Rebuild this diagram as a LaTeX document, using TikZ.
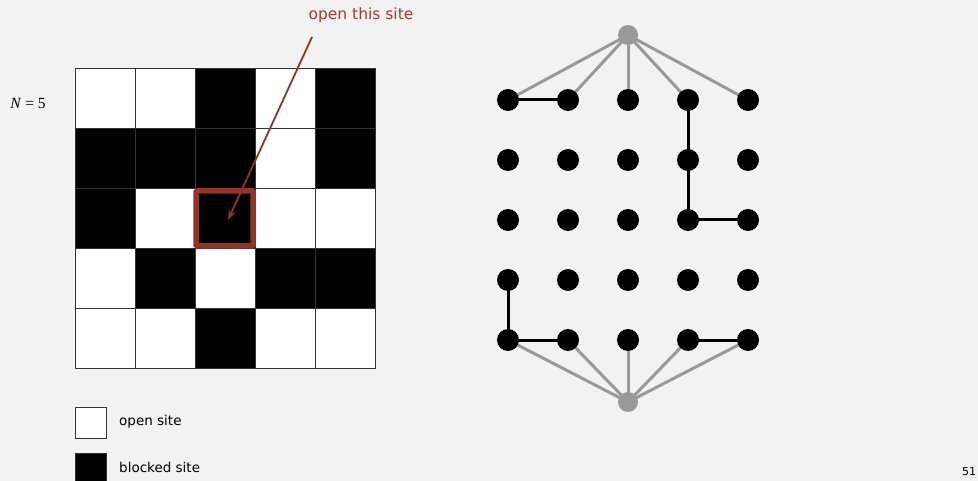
\documentclass[tikz,border=0pt]{standalone}
\usepackage{fontspec}
\setmainfont{DejaVu Sans}
\newfontfamily\serifface{Liberation Serif}
\usetikzlibrary{arrows.meta,backgrounds}
\pgfdeclarelayer{bgfill}
\pgfsetlayers{bgfill,background,main}
\definecolor{bg}{HTML}{F2F2F2}
\definecolor{redd}{HTML}{A5392E}
\definecolor{boxred}{HTML}{923526}
\definecolor{vgray}{HTML}{999999}
\tikzset{
  site/.style={circle,fill=black,inner sep=0pt,minimum size=22pt},
  virt/.style={circle,fill=vgray,inner sep=0pt,minimum size=20pt},
  blk/.style={line width=3pt,black},
  gry/.style={line width=3pt,vgray},
  cellw/.style={draw=black!80,line width=0.6pt,fill=white},
  cellb/.style={draw=black!80,line width=0.6pt,fill=black},
  lbl/.style={font=\fontsize{13.5}{15}\selectfont,inner sep=0pt}
}
\begin{document}
\begin{tikzpicture}[x=1pt,y=-1pt]
\useasboundingbox (0,0) rectangle (978,481);
\begin{pgfonlayer}{bgfill}
\fill[bg] (0,0) rectangle (978,481);
\end{pgfonlayer}
% grid
\foreach \r/\pat in {0/{0,0,1,0,1},1/{1,1,1,0,1},2/{1,0,1,0,0},3/{0,1,0,1,1},4/{0,0,1,0,0}}{
  \foreach \v [count=\c from 0] in \pat {
    \ifnum\v=1
      \path[cellb] (75+60*\c,68+60*\r) rectangle (135+60*\c,128+60*\r);
    \else
      \path[cellw] (75+60*\c,68+60*\r) rectangle (135+60*\c,128+60*\r);
    \fi
  }
}
\draw[boxred,line width=5.5pt,rounded corners=1pt] (196,191) rectangle (253,246);
\node[inner sep=0pt,font=\fontsize{15.5}{17}\selectfont,text=redd] (opentxt) at (361,15) {open this site};
\coordinate (tgt) at (228,220);
\coordinate (src) at (312,37);
\draw[boxred,line width=1.8pt,-{Stealth[length=10pt,width=7pt]}] (src) -- (tgt);
\node[inner sep=0pt,font=\serifface\fontsize{15.5}{17}\selectfont] (nlab) at (28,104) {\textit{N} = 5};
% legend
\path[cellw] (75.5,407.5) rectangle (106.5,438.5);
\path[cellb] (75.5,453.5) rectangle (106.5,486);
\node[lbl,anchor=west] (ol) at (119,422) {open site};
\node[lbl,anchor=west] (bl) at (119,467) {blocked site};
\node[inner sep=0pt,anchor=west,font=\fontsize{11}{12}\selectfont] (pg) at (962,472) {51};
% graph
\node[virt] (top) at (628,35) {};
\node[virt] (bot) at (628,402) {};
\foreach \r in {1,...,5}{
  \foreach \c in {1,...,5}{
    \node[site] (n\r\c) at (448+60*\c,40+60*\r) {};
  }
}
\begin{pgfonlayer}{background}
\foreach \c in {1,...,5}{
  \draw[gry] (top.center) -- (n1\c.center);
  \draw[gry] (bot.center) -- (n5\c.center);
}
\draw[blk] (n11.center) -- (n12.center);
\draw[blk] (n14.center) -- (n24.center) -- (n34.center) -- (n35.center);
\draw[blk] (n41.center) -- (n51.center) -- (n52.center);
\draw[blk] (n54.center) -- (n55.center);
\end{pgfonlayer}
\end{tikzpicture}
\end{document}
